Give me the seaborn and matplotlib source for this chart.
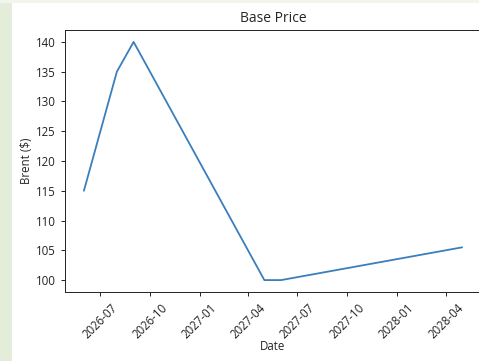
import matplotlib
matplotlib.use("Agg")
import matplotlib.pyplot as plt
import matplotlib.dates as mdates
from matplotlib.patches import Rectangle
import pandas as pd
import seaborn as sns

# Brent base-price path (USD per barrel)
dates = ["2026-06-01", "2026-08-01", "2026-09-01", "2027-05-01", "2027-06-01", "2028-05-01"]
brent = [115, 135, 140, 100, 100, 105.5]

df = pd.DataFrame({"Date": pd.to_datetime(dates), "Brent ($)": brent})

sns.set_style("ticks")
plt.rcParams["font.family"] = ["Open Sans", "DejaVu Sans"]

fig = plt.figure(figsize=(4.79, 3.61), dpi=100)
fig.patch.set_facecolor("white")
# page background around the figure panel
fig.patches.append(Rectangle((0, 0), 12 / 479, 1, transform=fig.transFigure,
                             facecolor="#e4edd9", edgecolor="none", zorder=-1))
fig.patches.append(Rectangle((0, 1 - 3 / 361), 1, 3 / 361, transform=fig.transFigure,
                             facecolor="#f1f5ec", edgecolor="none", zorder=-1))

ax = fig.add_axes([65 / 479, 1 - 292 / 361, 416 / 479, (292 - 30) / 361])
sns.lineplot(data=df, x="Date", y="Brent ($)", ax=ax, color="#3a7ebc", linewidth=1.3)

ax.xaxis.set_major_locator(mdates.MonthLocator(bymonth=[1, 4, 7, 10]))
ax.xaxis.set_major_formatter(mdates.DateFormatter("%Y-%m"))
ax.set_yticks([100, 105, 110, 115, 120, 125, 130, 135, 140])
plt.setp(ax.get_xticklabels(), rotation=45)
ax.tick_params(labelsize=8.3, length=3, width=0.7, colors="#222222")
for s in ax.spines.values():
    s.set_linewidth(0.7)
    s.set_color("#222222")
ax.set_title("Base Price", fontsize=10, pad=6)
ax.set_xlabel("Date", fontsize=8.3, labelpad=-1)
ax.set_ylabel("Brent ($)", fontsize=8.3, labelpad=2)

fig.savefig("out.png", dpi=100)
